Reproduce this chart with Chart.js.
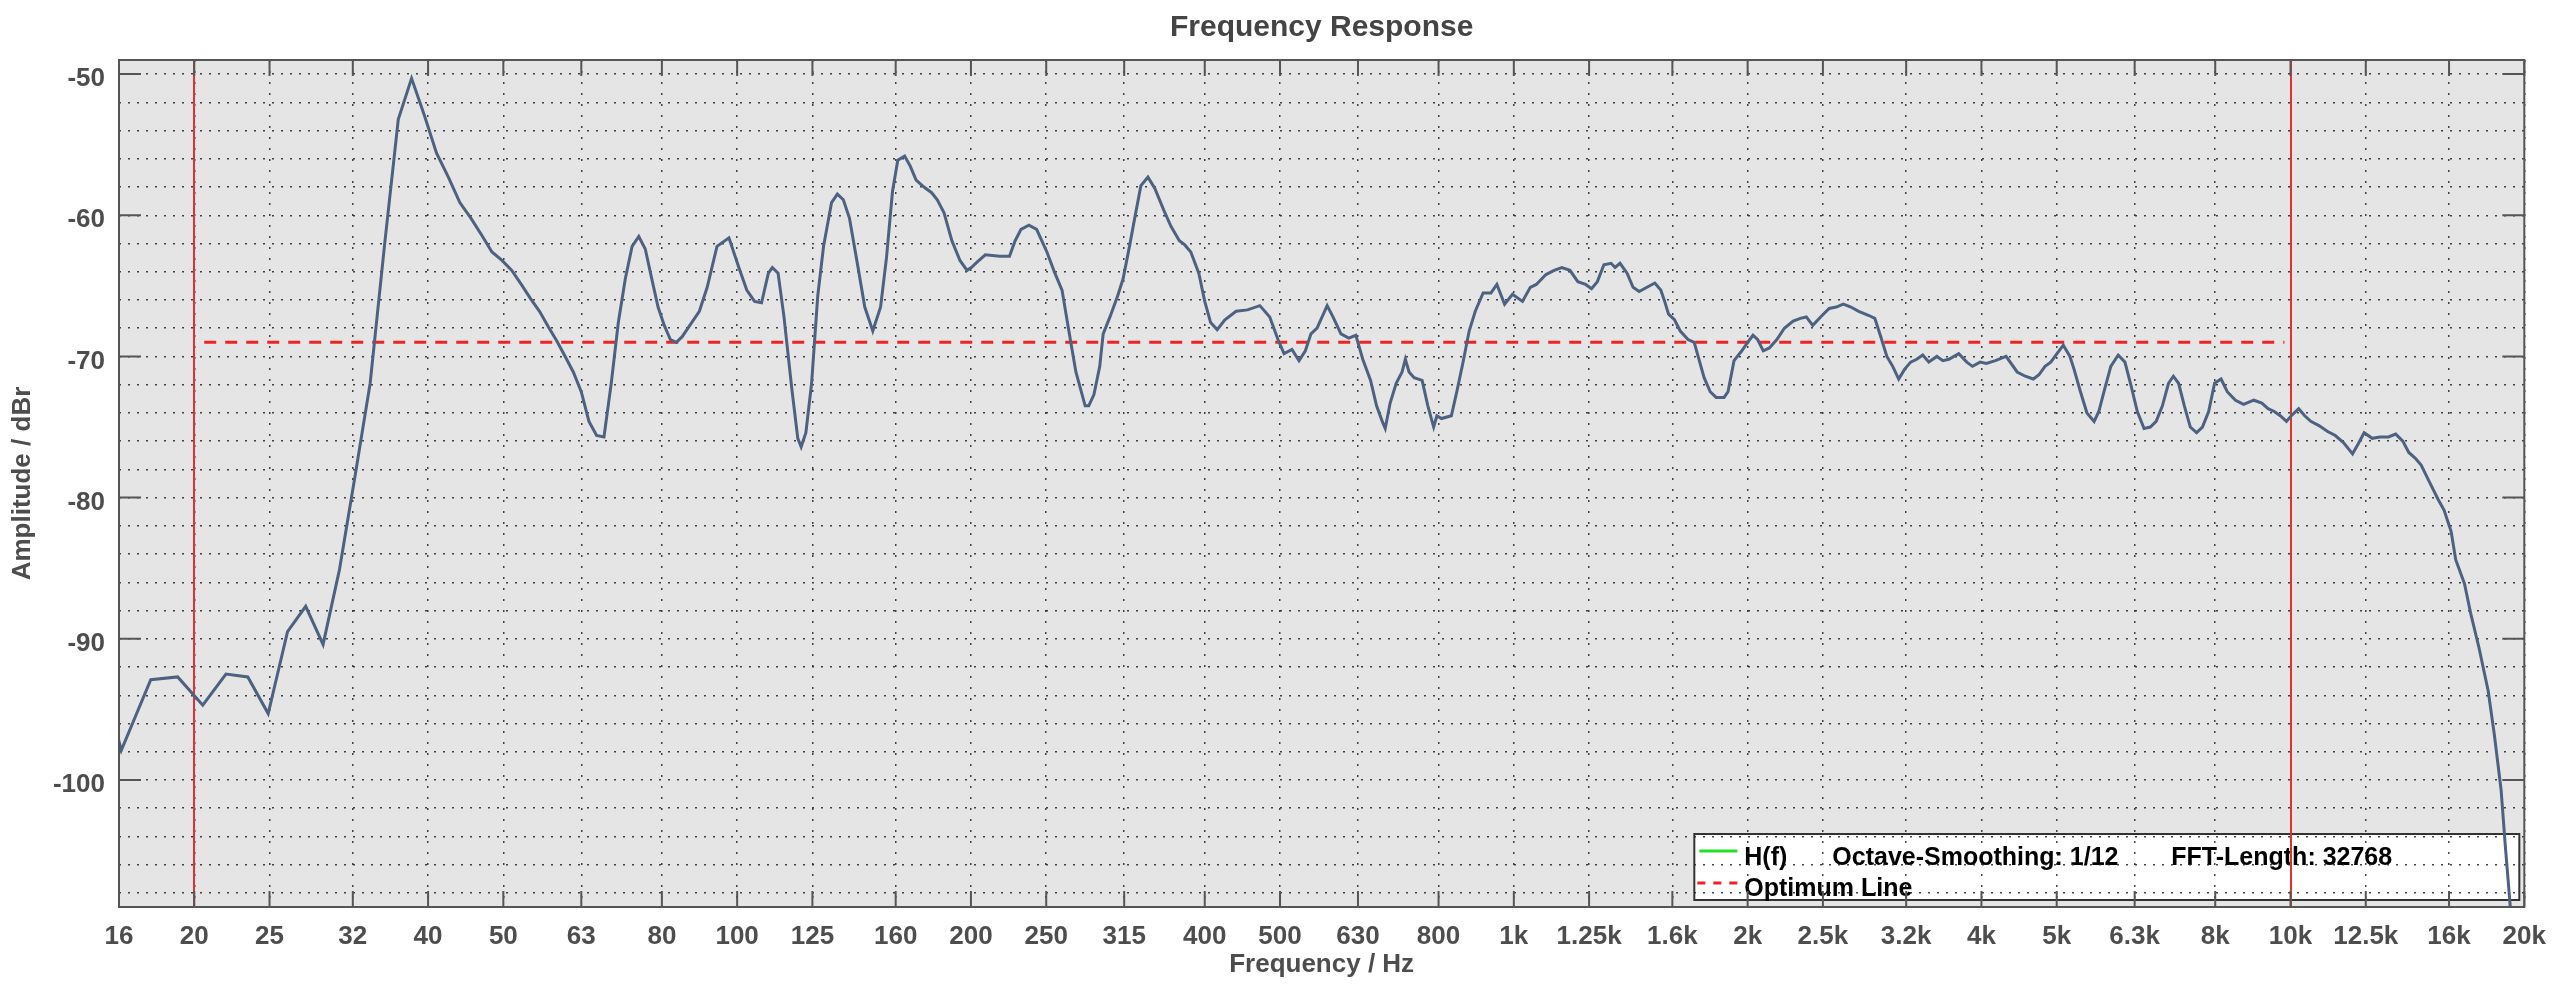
<!DOCTYPE html>
<html>
<head>
<meta charset="utf-8">
<title>Frequency Response</title>
<script src="https://cdn.jsdelivr.net/npm/chart.js@4.4.1/dist/chart.umd.min.js"></script>
<style>
  html, body { margin: 0; padding: 0; background: #fff; }
  #wrap { width: 2560px; height: 993px; position: relative; }
</style>
</head>
<body>
<div id="wrap"><canvas id="fr"></canvas></div>
<script>
// measured response, 1/12 octave smoothed (Hz / dBr)
const freqs = [
  14.65, 16.11, 17.58, 19.04, 20.51, 21.97, 23.44, 24.90, 26.37, 27.83,
  29.30, 30.76, 32.23, 33.69, 35.16, 36.62, 38.09, 39.55, 41.02, 42.48,
  43.95, 45.41, 46.88, 48.34, 49.80, 51.27, 52.73, 54.20, 55.66, 57.13,
  58.59, 60.06, 61.52, 62.99, 64.45, 65.92, 67.38, 68.85, 70.31, 71.78,
  73.24, 74.71, 76.17, 77.64, 79.10, 80.57, 82.03, 83.50, 84.96, 86.43,
  89.4, 91.5, 94.2, 97.6, 100.5, 102.9, 105.3, 107.5, 109.7, 111,
  112.9, 114.9, 117.6, 119.7, 120.9, 122.6, 124.7, 127, 129.2, 132.3,
  134.6, 137, 139.5, 142.7, 146, 149.5, 153, 155.7, 158.5, 161,
  164.3, 167, 170, 174, 178, 181, 184.6, 189, 193.6, 197.7,
  200.2, 203.8, 208.7, 217.8, 224.2, 228, 232, 237.5, 243, 250.5,
  256.5, 262, 267, 273, 280.6, 283.6, 288, 293, 296, 302,
  309, 314, 320, 325, 331, 338, 345, 354, 362, 371,
  377, 383.8, 393, 400, 407, 415, 424.6, 439, 454, 471,
  485, 497, 506, 518, 529, 539, 548, 558, 575, 585,
  599, 613, 626, 639, 654, 665.7, 677, 683, 693, 705.6,
  718, 725, 733, 744, 762, 775, 788.5, 796, 807, 831,
  846, 861, 876, 892, 913, 934.5, 951, 973, 996, 1026,
  1050, 1069, 1100, 1127, 1153, 1181, 1209, 1237, 1259, 1281,
  1306, 1334, 1350, 1370, 1399, 1424, 1450, 1484, 1519, 1546,
  1564, 1582, 1610, 1638, 1676, 1707, 1727, 1758, 1790, 1822,
  1865, 1887, 1921, 1966, 2000, 2032, 2060, 2095, 2133, 2181,
  2230, 2289, 2338, 2380, 2426, 2483, 2547, 2601, 2656, 2716,
  2780, 2866, 2916, 2968, 3022, 3075, 3130, 3186, 3243, 3302,
  3361, 3422, 3505, 3568, 3632, 3740, 3830, 3895, 3985, 4058,
  4169, 4303, 4447, 4555, 4665, 4744, 4830, 4913, 5004, 5099,
  5200, 5263, 5365, 5469, 5587, 5665, 5765, 5870, 6000, 6121,
  6235, 6350, 6478, 6600, 6715, 6840, 6965, 7066, 7176, 7300,
  7430, 7570, 7702, 7845, 7985, 8140, 8290, 8495, 8702, 8968,
  9185, 9357, 9530, 9700, 9880, 10024, 10245, 10430, 10620, 10880,
  11150, 11420, 11700, 12020, 12220, 12440, 12740, 13050, 13370, 13660,
  13950, 14200, 14470, 14730, 15100, 15480, 15770, 16100, 16320, 16750,
  17060, 17480, 17970, 18300, 18670, 18900, 19180, 19400
];
const amps = [
  -89.0, -97.9, -92.9, -92.7, -94.7, -92.5, -92.7, -95.3, -89.5, -87.7,
  -90.4, -85.1, -78.4, -71.9, -62.1, -53.2, -50.3, -52.9, -55.6, -57.3,
  -59.1, -60.2, -61.4, -62.6, -63.2, -63.9, -64.9, -65.9, -66.8, -67.9,
  -68.9, -70.0, -71.1, -72.5, -74.6, -75.6, -75.7, -71.9, -67.6, -64.5,
  -62.2, -61.5, -62.4, -64.5, -66.5, -67.8, -68.8, -69.0, -68.6, -68.0,
  -66.8, -65.1, -62.2, -61.6, -63.7, -65.3, -66.1, -66.2, -64.1, -63.7,
  -64.1, -67.2, -72.3, -75.8, -76.4, -75.4, -71.9, -65.7, -62.2, -59.1,
  -58.5, -58.9, -60.2, -63.3, -66.5, -68.2, -66.5, -63.0, -58.3, -56.1,
  -55.8, -56.5, -57.5, -58.0, -58.4, -58.9, -59.8, -61.8, -63.2, -63.9,
  -63.7, -63.3, -62.8, -62.9, -62.9, -61.8, -61.0, -60.7, -61.0, -62.6,
  -64.1, -65.3, -68.0, -71.1, -73.5, -73.5, -72.7, -70.7, -68.4, -67.2,
  -65.7, -64.5, -62.2, -60.2, -57.9, -57.3, -58.1, -59.6, -60.8, -61.8,
  -62.1, -62.6, -64.1, -66.1, -67.6, -68.1, -67.4, -66.8, -66.7, -66.4,
  -67.2, -68.8, -69.8, -69.5, -70.3, -69.6, -68.4, -68.0, -66.4, -67.2,
  -68.4, -68.7, -68.5, -70.2, -71.7, -73.5, -74.6, -75.1, -73.3, -71.9,
  -71.1, -70.2, -71.1, -71.5, -71.7, -73.5, -75.0, -74.2, -74.4, -74.2,
  -72.3, -70.3, -68.2, -66.8, -65.5, -65.5, -64.9, -66.3, -65.6, -66.1,
  -65.1, -64.9, -64.2, -63.9, -63.7, -63.9, -64.7, -64.9, -65.2, -64.7,
  -63.5, -63.4, -63.7, -63.4, -64.1, -65.1, -65.4, -65.1, -64.8, -65.3,
  -66.1, -67.0, -67.4, -68.2, -68.8, -69.0, -70.0, -71.5, -72.5, -72.9,
  -72.9, -72.5, -70.3, -69.6, -69.0, -68.5, -68.8, -69.6, -69.4, -68.8,
  -68.0, -67.5, -67.3, -67.2, -67.8, -67.2, -66.6, -66.5, -66.3, -66.5,
  -66.8, -67.1, -67.3, -68.6, -70.0, -70.7, -71.6, -70.9, -70.4, -70.2,
  -69.9, -70.4, -70.0, -70.3, -70.2, -69.8, -70.4, -70.7, -70.4, -70.5,
  -70.3, -70.0, -71.1, -71.4, -71.6, -71.3, -70.7, -70.4, -69.8, -69.2,
  -70.0, -70.9, -72.5, -74.0, -74.6, -73.9, -72.3, -70.7, -69.9, -70.4,
  -72.1, -73.9, -75.1, -75.0, -74.6, -73.5, -71.9, -71.4, -71.9, -73.5,
  -75.0, -75.4, -75.0, -73.9, -71.9, -71.6, -72.5, -73.1, -73.4, -73.1,
  -73.3, -73.7, -73.9, -74.2, -74.6, -74.2, -73.7, -74.2, -74.6, -74.9,
  -75.3, -75.6, -76.1, -76.9, -76.2, -75.4, -75.8, -75.7, -75.7, -75.5,
  -76.0, -76.8, -77.2, -77.7, -78.9, -80.1, -80.9, -82.4, -84.4, -86.1,
  -88.2, -90.6, -93.7, -96.8, -100.7, -104.6, -108.9, -113.0
];

const xTickValues = [16, 20, 25, 32, 40, 50, 63, 80, 100, 125, 160, 200, 250, 315, 400, 500,
  630, 800, 1000, 1250, 1600, 2000, 2500, 3200, 4000, 5000, 6300, 8000, 10000, 12500, 16000, 20000];
const xTickLabels = ['16', '20', '25', '32', '40', '50', '63', '80', '100', '125', '160', '200', '250', '315', '400', '500',
  '630', '800', '1k', '1.25k', '1.6k', '2k', '2.5k', '3.2k', '4k', '5k', '6.3k', '8k', '10k', '12.5k', '16k', '20k'];
const yTickValues = [-108, -106, -104, -102, -100, -98, -96, -94, -92, -90, -88, -86, -84, -82, -80,
  -78, -76, -74, -72, -70, -68, -66, -64, -62, -60, -58, -56, -54, -52, -50];
const yMajorTicks = [-100, -90, -80, -70, -60, -50];

const limitFreqs = [20, 10000];
const optimumFreqs = [20.6, 9820];
const optimumLevel = -69;
const legendNotes = ['Octave-Smoothing: 1/12', 'FFT-Length: 32768'];

const FONT = "'Liberation Sans', Arial, Helvetica, sans-serif";
const TXT = '#4d4d4d';
const FRAME = '#555';

// gray plot area and the white legend box sit under the grid, like the original
const backdrop = {
  id: 'backdrop',
  beforeDraw(chart) {
    const { ctx, chartArea: a } = chart;
    ctx.save();
    ctx.fillStyle = '#e5e5e5';
    ctx.fillRect(a.left, a.top, a.right - a.left, a.bottom - a.top);

    const lw = 825, lh = 66;
    const lx = a.right - 830, ly = a.bottom - 73;
    ctx.fillStyle = '#fff';
    ctx.fillRect(lx, ly, lw, lh);
    ctx.strokeStyle = '#333';
    ctx.lineWidth = 2;
    ctx.strokeRect(lx, ly, lw, lh);

    ctx.lineWidth = 3;
    ctx.strokeStyle = '#22e022';
    ctx.beginPath();
    ctx.moveTo(lx + 5, ly + 17);
    ctx.lineTo(lx + 43, ly + 17);
    ctx.stroke();

    ctx.strokeStyle = '#ee2222';
    ctx.setLineDash([8, 8]);
    ctx.beginPath();
    ctx.moveTo(lx + 3, ly + 49);
    ctx.lineTo(lx + 45, ly + 49);
    ctx.stroke();
    ctx.setLineDash([]);

    const ds = chart.data.datasets;
    ctx.fillStyle = '#000';
    ctx.font = 'bold 25px ' + FONT;
    ctx.textBaseline = 'alphabetic';
    ctx.textAlign = 'left';
    ctx.fillText(ds[0].label, lx + 50, ly + 31);
    ctx.fillText(legendNotes[0], lx + 138, ly + 31);
    ctx.fillText(legendNotes[1], lx + 477, ly + 31);
    ctx.fillText(ds[1].label, lx + 50, ly + 62);
    ctx.restore();
  },
  beforeDatasetsDraw(chart) {
    const { ctx, chartArea: a, scales } = chart;
    ctx.save();
    ctx.strokeStyle = '#e53030';
    ctx.lineWidth = 2;
    limitFreqs.forEach(f => {
      const px = Math.round(scales.x.getPixelForValue(f));
      ctx.beginPath();
      ctx.moveTo(px, a.top);
      ctx.lineTo(px, a.bottom);
      ctx.stroke();
    });
    ctx.restore();
  },
  afterDraw(chart) {
    const { ctx, chartArea: a, scales } = chart;
    ctx.save();
    ctx.strokeStyle = FRAME;
    ctx.lineWidth = 2;
    ctx.beginPath();
    xTickValues.forEach(v => {
      const px = scales.x.getPixelForValue(v);
      ctx.moveTo(px, a.top);
      ctx.lineTo(px, a.top + 16);
      ctx.moveTo(px, a.bottom);
      ctx.lineTo(px, a.bottom - 16);
    });
    yMajorTicks.forEach(v => {
      const py = scales.y.getPixelForValue(v);
      ctx.moveTo(a.left, py);
      ctx.lineTo(a.left + 22, py);
      ctx.moveTo(a.right, py);
      ctx.lineTo(a.right - 22, py);
    });
    ctx.stroke();
    ctx.strokeRect(a.left, a.top, a.right - a.left, a.bottom - a.top);

    ctx.fillStyle = '#444';
    ctx.font = 'bold 30px ' + FONT;
    ctx.textAlign = 'center';
    ctx.textBaseline = 'alphabetic';
    ctx.fillText('Frequency Response', (a.left + a.right) / 2, 36);
    ctx.restore();
  }
};

new Chart(document.getElementById('fr'), {
  type: 'line',
  data: {
    datasets: [
      {
        label: 'H(f)',
        data: freqs.map((f, i) => ({ x: f, y: amps[i] })),
        borderColor: '#4d6180',
        borderWidth: 3,
        pointRadius: 0,
        tension: 0,
        order: 0
      },
      {
        label: 'Optimum Line',
        data: optimumFreqs.map(f => ({ x: f, y: optimumLevel })),
        borderColor: '#ee2222',
        borderWidth: 3,
        borderDash: [12, 9],
        pointRadius: 0,
        order: 1
      }
    ]
  },
  options: {
    responsive: true,
    maintainAspectRatio: false,
    animation: false,
    layout: { padding: { left: 0, right: 35, top: 60, bottom: 0 } },
    plugins: {
      legend: { display: false },
      title: { display: false },
      tooltip: { enabled: false }
    },
    scales: {
      x: {
        type: 'logarithmic',
        min: 16,
        max: 20000,
        afterBuildTicks: s => { s.ticks = xTickValues.map(v => ({ value: v })); },
        afterFit: s => { s.height = 86; },
        ticks: {
          autoSkip: false,
          maxRotation: 0,
          padding: 14,
          color: TXT,
          font: { family: FONT, size: 26, weight: 'bold' },
          callback: (v, i) => xTickLabels[i]
        },
        grid: { color: 'rgba(35,35,35,0.85)', lineWidth: 1.5, drawTicks: false },
        border: { display: false, dash: [2, 9] },
        title: {
          display: true,
          text: 'Frequency / Hz',
          color: TXT,
          font: { family: FONT, size: 26, weight: 'bold' },
          padding: { top: 0, bottom: 13 }
        }
      },
      y: {
        min: -109,
        max: -49,
        afterBuildTicks: s => { s.ticks = yTickValues.map(v => ({ value: v })); },
        afterFit: s => { s.width = 119; },
        ticks: {
          autoSkip: false,
          padding: 14,
          labelOffset: 5,
          color: TXT,
          font: { family: FONT, size: 26, weight: 'bold' },
          callback: v => (yMajorTicks.includes(v) ? String(v) : '')
        },
        grid: { color: 'rgba(35,35,35,0.85)', lineWidth: 1.5, drawTicks: false },
        border: { display: false, dash: [2, 7] },
        title: {
          display: true,
          text: 'Amplitude / dBr',
          color: TXT,
          font: { family: FONT, size: 26, weight: 'bold' },
          padding: { top: 7, bottom: 0 }
        }
      }
    }
  },
  plugins: [backdrop]
});
</script>
</body>
</html>
